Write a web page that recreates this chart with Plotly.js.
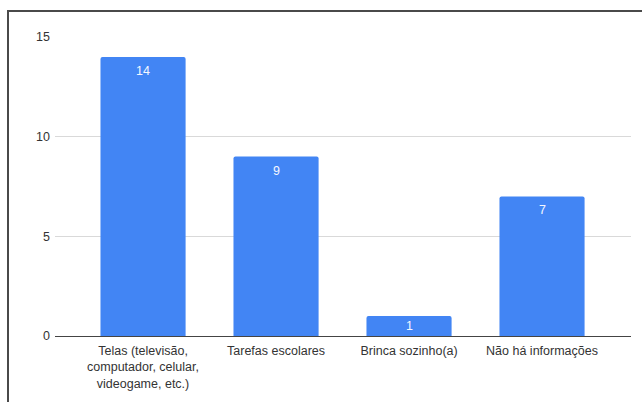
<!DOCTYPE html>
<html>
<head>
<meta charset="utf-8">
<script src="https://cdn.plot.ly/plotly-3.0.1.min.js"></script>
<style>
  html, body { margin: 0; padding: 0; background: #fff; }
  #wrap { position: relative; width: 642px; height: 402px; overflow: hidden; }
  #chart { position: absolute; left: 0; top: 0; width: 642px; height: 402px; }
  #frame { position: absolute; left: 7px; top: 10px; right: -4px; bottom: -4px;
           border-top: 2px solid #4a4a4a; border-left: 2px solid #4a4a4a; pointer-events: none; }
</style>
</head>
<body>
<div id="wrap">
  <div id="chart"></div>
  <div id="frame"></div>
</div>
<script>
// Atividades das crianças
const categories = [
  "Telas (televisão,<br>computador, celular,<br>videogame, etc.)",
  "Tarefas escolares",
  "Brinca sozinho(a)",
  "Não há informações"
];
const counts = [14, 9, 1, 7];
const yTicks = [0, 5, 10, 15];

const FONT = "Liberation Sans, Arial, sans-serif";
const W = 642, H = 402;
const M = { l: 55, r: 11, t: 37, b: 66 };
const Y_MAX = 15;
const pxPerUnit = (H - M.t - M.b) / Y_MAX;

const trace = {
  type: "bar",
  x: categories,
  y: counts,
  marker: { color: "#4285F4", cornerradius: 2 },
  hoverinfo: "none"
};

// value labels sit just inside the top of each bar; short bars get them centred
const valueLabels = categories.map((c, i) => ({
  x: c,
  y: counts[i],
  xref: "x",
  yref: "y",
  text: String(counts[i]),
  showarrow: false,
  yanchor: "middle",
  yshift: -Math.min(14, counts[i] * pxPerUnit / 2),
  font: { family: FONT, size: 12.5, color: "#f4f7ff" }
}));

const layout = {
  width: W,
  height: H,
  margin: M,
  paper_bgcolor: "#ffffff",
  plot_bgcolor: "#ffffff",
  showlegend: false,
  bargap: 0.36,
  font: { family: FONT, size: 12.5, color: "#333333" },
  annotations: valueLabels,
  xaxis: {
    type: "category",
    range: [-0.662, 3.669],
    showgrid: false,
    showline: true,
    linecolor: "#444444",
    linewidth: 1,
    ticks: "",
    ticklabelstandoff: 3,
    tickfont: { size: 12.5, color: "#333333" },
    fixedrange: true
  },
  yaxis: {
    range: [0, Y_MAX],
    tickvals: yTicks,
    ticktext: yTicks.map(String),
    showgrid: true,
    gridcolor: "#d9d9d9",
    gridwidth: 1,
    zeroline: false,
    showline: false,
    ticks: "",
    ticklabelstandoff: 4,
    tickfont: { size: 12.5, color: "#333333" },
    fixedrange: true
  }
};

Plotly.newPlot("chart", [trace], layout, { displayModeBar: false, staticPlot: true });
</script>
</body>
</html>
